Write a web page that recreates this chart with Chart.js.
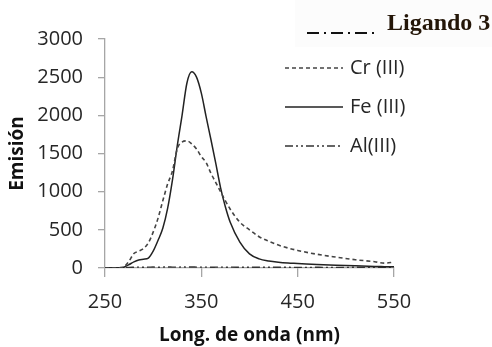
<!DOCTYPE html>
<html>
<head>
<meta charset="utf-8">
<script src="https://cdn.jsdelivr.net/npm/chart.js@4/dist/chart.umd.min.js"></script>
<style>
  html, body { margin: 0; padding: 0; background: #fff; }
  #wrap { width: 492px; height: 347px; position: relative; }
</style>
</head>
<body>
<div id="wrap"><canvas id="chart"></canvas></div>
<script>
'use strict';

// longitud de onda (nm)
var wavelengths = [250, 260, 265, 270, 275, 280, 285, 290, 295, 300, 305, 310, 315, 320, 325, 330, 335, 340, 345, 350,
   355, 360, 365, 370, 375, 380, 390, 400, 410, 420, 430, 440, 450, 470, 490, 510, 530, 540, 550];

var crValues = [0, 0, 3, 20, 90, 190, 220, 255, 330, 470, 650, 880, 1100, 1270, 1560, 1650, 1665, 1625, 1560, 1460,
   1380, 1240, 1120, 1000, 880, 770, 600, 500, 410, 350, 300, 262, 230, 180, 142, 108, 82, 64, 78];

var feValues = [0, 0, 2, 12, 45, 80, 105, 115, 130, 220, 360, 520, 780, 1150, 1600, 2000, 2420, 2570, 2500, 2290,
   1980, 1680, 1370, 1050, 800, 600, 340, 185, 120, 92, 76, 66, 60, 46, 36, 28, 21, 18, 15];

var alValues = [0, 0, 0, 4, 8, 10, 12, 10, 11, 13, 10, 12, 14, 12, 11, 13, 12, 14, 12, 11,
   12, 10, 11, 12, 10, 11, 10, 9, 10, 9, 10, 9, 8, 9, 8, 9, 8, 8, 8];

var yTicks = [0, 500, 1000, 1500, 2000, 2500, 3000];
var xTicks = [250, 350, 450, 550];

var legendTitle = 'Ligando 3';

function toPoints(values) {
   return wavelengths.map(function(w, i) {
      return { x: w, y: values[i] };
   });
}

var axisColor = '#a6a6a6';
var textColor = '#262626';
var tickFont = { family: "'Open Sans', sans-serif", size: 20 };
var titleFont = { family: "'Open Sans', sans-serif", size: 19, weight: 'bold' };

// leyenda dibujada a mano para copiar la del original
var sampleLegend = {
   id: 'sampleLegend',
   afterDraw: function(chart) {
      var ctx = chart.ctx;
      ctx.save();

      // recuadro casi blanco de "Ligando 3"
      ctx.fillStyle = '#fcfcfc';
      ctx.fillRect(295, 0, 197, 47);

      ctx.strokeStyle = '#111';
      ctx.lineWidth = 2.2;
      ctx.setLineDash([12, 5, 2, 5]);
      ctx.beginPath();
      ctx.moveTo(307, 33);
      ctx.lineTo(378, 33);
      ctx.stroke();

      ctx.setLineDash([]);
      ctx.fillStyle = '#241608';
      ctx.font = "bold 24px 'Liberation Serif', 'Times New Roman', serif";
      ctx.textBaseline = 'alphabetic';
      ctx.textAlign = 'left';
      ctx.fillText(legendTitle, 387, 30);

      var rowY = [68, 107, 146];
      chart.data.datasets.forEach(function(ds, i) {
         ctx.strokeStyle = ds.borderColor;
         ctx.lineWidth = 1.4;
         ctx.setLineDash(ds.borderDash || []);
         ctx.beginPath();
         ctx.moveTo(285, rowY[i]);
         ctx.lineTo(343, rowY[i]);
         ctx.stroke();
         ctx.setLineDash([]);
         ctx.fillStyle = textColor;
         ctx.font = "20px 'Open Sans', sans-serif";
         ctx.textBaseline = 'middle';
         ctx.fillText(ds.label, 350, rowY[i]);
      });
      ctx.restore();
   }
};

var chart = new Chart(document.getElementById('chart'), {
   type: 'line',
   data: {
      datasets: [{
         label: 'Cr (III)',
         data: toPoints(crValues),
         borderColor: '#444',
         borderWidth: 1.6,
         borderDash: [4, 3],
         pointRadius: 0,
         cubicInterpolationMode: 'monotone'
      }, {
         label: 'Fe (III)',
         data: toPoints(feValues),
         borderColor: '#222',
         borderWidth: 1.5,
         pointRadius: 0,
         cubicInterpolationMode: 'monotone'
      }, {
         label: 'Al(III)',
         data: toPoints(alValues),
         borderColor: '#333',
         borderWidth: 1.4,
         borderDash: [8, 3, 2, 3, 2, 3],
         pointRadius: 0,
         cubicInterpolationMode: 'monotone'
      }]
   },
   options: {
      responsive: true,
      maintainAspectRatio: false,
      animation: false,
      layout: { padding: { top: 39, right: 98, left: 0, bottom: 0 } },
      plugins: {
         legend: { display: false },
         tooltip: { enabled: false }
      },
      scales: {
         x: {
            type: 'linear',
            min: 250,
            max: 550,
            afterFit: function(scale) { scale.height = 79; },
            afterBuildTicks: function(scale) {
               scale.ticks = xTicks.map(function(v) { return { value: v }; });
            },
            border: { color: axisColor, width: 1.3 },
            grid: { drawOnChartArea: false, tickLength: 9, color: axisColor, lineWidth: 1.3 },
            ticks: {
               color: textColor, font: tickFont, padding: 13, maxRotation: 0,
               callback: function(v) { return String(v); }
            },
            title: {
               display: true,
               text: 'Long. de onda (nm)',
               color: '#111',
               font: titleFont,
               padding: 0
            }
         },
         y: {
            min: 0,
            max: 3000,
            afterFit: function(scale) { scale.width = 105; },
            afterBuildTicks: function(scale) {
               scale.ticks = yTicks.map(function(v) { return { value: v }; });
            },
            border: { color: axisColor, width: 1.3 },
            grid: { drawOnChartArea: false, tickLength: 7, color: axisColor, lineWidth: 1.3 },
            ticks: {
               color: textColor, font: tickFont, padding: 15,
               callback: function(v) { return String(v); }
            },
            title: {
               display: true,
               text: 'Emisión',
               color: '#111',
               font: titleFont,
               padding: 6
            }
         }
      }
   },
   plugins: [sampleLegend]
});
</script>
</body>
</html>
